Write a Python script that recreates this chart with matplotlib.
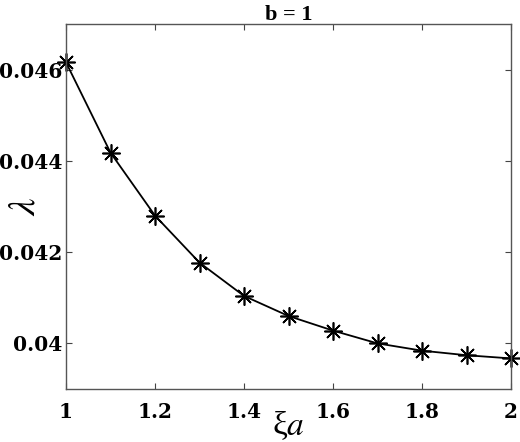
import matplotlib
matplotlib.use("Agg")
import matplotlib.pyplot as plt

xa = [1.0, 1.1, 1.2, 1.3, 1.4, 1.5, 1.6, 1.7, 1.8, 1.9, 2.0]
lam = [0.04616, 0.04418, 0.04280, 0.04177, 0.04104, 0.04060,
       0.04028, 0.04000, 0.03984, 0.03974, 0.03967]
xticks = [1, 1.2, 1.4, 1.6, 1.8, 2]
xticklabels = ['1', '1.2', '1.4', '1.6', '1.8', '2']
yticks = [0.040, 0.042, 0.044, 0.046]
yticklabels = ['0.04', '0.042', '0.044', '0.046']

plt.rcParams['font.family'] = ['Liberation Serif', 'DejaVu Serif']
plt.rcParams['mathtext.fontset'] = 'stix'

fig = plt.figure(figsize=(5.2, 4.42), dpi=100)
ax = fig.add_axes([66/520, 1-389/442, (511-66)/520, (389-24)/442])

ax.plot(xa, lam, color='black', lw=1.3, marker=(8, 2, 0), markersize=13,
        markeredgewidth=1.2, clip_on=False)

ax.set_xlim(1, 2)
ax.set_ylim(0.039, 0.047)
ax.set_xticks(xticks)
ax.set_xticklabels(xticklabels, fontsize=14.5, fontweight='bold',
                   family=['DejaVu Serif'])
ax.set_yticks(yticks)
ax.set_yticklabels(yticklabels, fontsize=14.5, fontweight='bold',
                   family=['DejaVu Serif'])
ax.tick_params(direction='in', top=True, right=True, length=4, width=0.8,
               color='#444444')
ax.tick_params(axis='y', pad=2.5)
ax.tick_params(axis='x', pad=9)
for s in ax.spines.values():
    s.set_color('#555555')
    s.set_linewidth(1.0)

ax.set_title('b = 1', fontsize=16, fontweight='bold', pad=3)
ax.set_xlabel(r'ξ$a$', fontsize=24)
ax.xaxis.set_label_coords(0.5, -0.055)
ax.set_ylabel(r'$\lambda$', fontsize=28)
ax.yaxis.set_label_coords(-0.05, 0.5)

fig.savefig('out.png', dpi=100)
